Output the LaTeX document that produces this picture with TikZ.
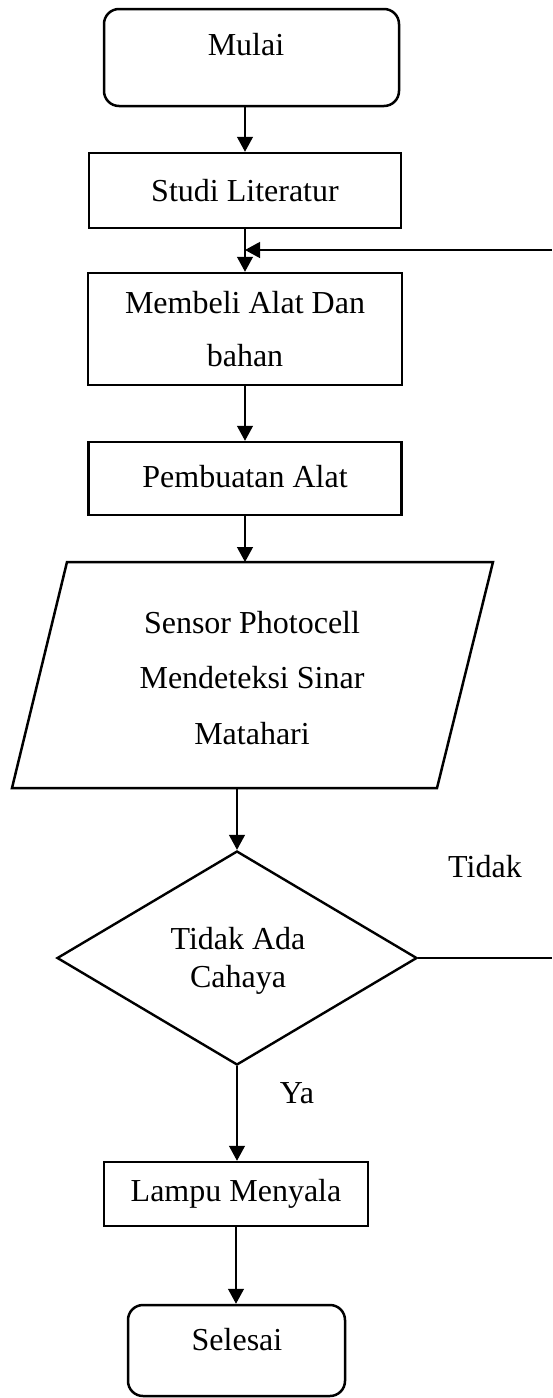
\documentclass[tikz,border=0pt]{standalone}
\usepackage{fontspec}
\setmainfont{Liberation Serif}
\usetikzlibrary{arrows.meta,shapes.geometric}
\begin{document}
\begin{tikzpicture}[x=1pt,y=-1pt,
  box/.style={draw,line width=2.5pt,inner sep=0pt},
  proc/.style={box,rectangle,align=center,font=\fontsize{32}{38}\selectfont},
  term/.style={box,rectangle,rounded corners=15pt},
  txt/.style={inner sep=0pt,align=center,font=\fontsize{32}{38}\selectfont},
  arr/.style={line width=1.3pt,-{Triangle[width=16pt,length=15pt]}},
  conn/.style={line width=1.3pt}]
\useasboundingbox (0,0) rectangle (552,1398);

% terminator start
\node[term, minimum width=295pt, minimum height=97pt] (mulai) at (251.5,57.5) {};
\node[txt] (mulaiT) at (246,45) {Mulai};

% process boxes
\node[proc, minimum width=312pt, minimum height=75pt] (studi) at (245,190.5) {Studi Literatur};
\node[proc, minimum width=314pt, minimum height=112pt, font=\fontsize{32}{53}\selectfont] (membeli) at (245,329) {Membeli Alat Dan\\bahan};
\node[proc, minimum width=313pt, minimum height=73pt] (pembuatan) at (245,478.5) {\raisebox{4pt}{Pembuatan Alat}};

% input/output parallelogram
\draw[line width=2.5pt, line join=miter] (67,562) coordinate (pA) -- (493,562) coordinate (pB)
  -- (437,788) coordinate (pC) -- (12,788) coordinate (pD) -- cycle;
\coordinate (pout) at (237,788);
\node[txt, font=\fontsize{32}{55.5}\selectfont] (sensor) at (252,678) {Sensor Photocell\\Mendeteksi Sinar\\Matahari};

% decision
\node[draw, diamond, line width=2.4pt, minimum width=360pt, minimum height=214pt, inner sep=0pt] (dec) at (237,958) {};
\node[txt, font=\fontsize{32}{38}\selectfont] (decT) at (238,961) {Tidak Ada\\Cahaya};
\node[txt] (tidak) at (485,867) {Tidak};
\node[txt] (ya) at (297,1093) {Ya};

% output process
\node[proc, minimum width=264pt, minimum height=64pt] (lampu) at (236,1194) {Lampu Menyala};

% terminator end
\node[term, minimum width=217pt, minimum height=91pt] (selesai) at (236.5,1350.5) {};
\node[txt] (selesaiT) at (237,1340) {Selesai};

% loop ends (leave the picture at the right edge)
\coordinate (eR) at (552,958);
\coordinate (fbR) at (552,250);

% connectors
\draw[arr] (studi.north |- mulai.south) -- (studi.north);
\draw[arr] (studi.south) -- (membeli.north);
\draw[arr] (membeli.south) -- (pembuatan.north);
\draw[arr] (pembuatan.south) -- (pembuatan.south |- pA);
\draw[arr] (pout) -- (dec.north);
\draw[arr] (dec.south) -- (dec.south |- lampu.north);
\draw[arr] (lampu.south) -- (lampu.south |- selesai.north);
\draw[conn] (dec.east) -- (eR);
\draw[arr] (fbR) -- (fbR -| membeli.north);
\end{tikzpicture}
\end{document}
